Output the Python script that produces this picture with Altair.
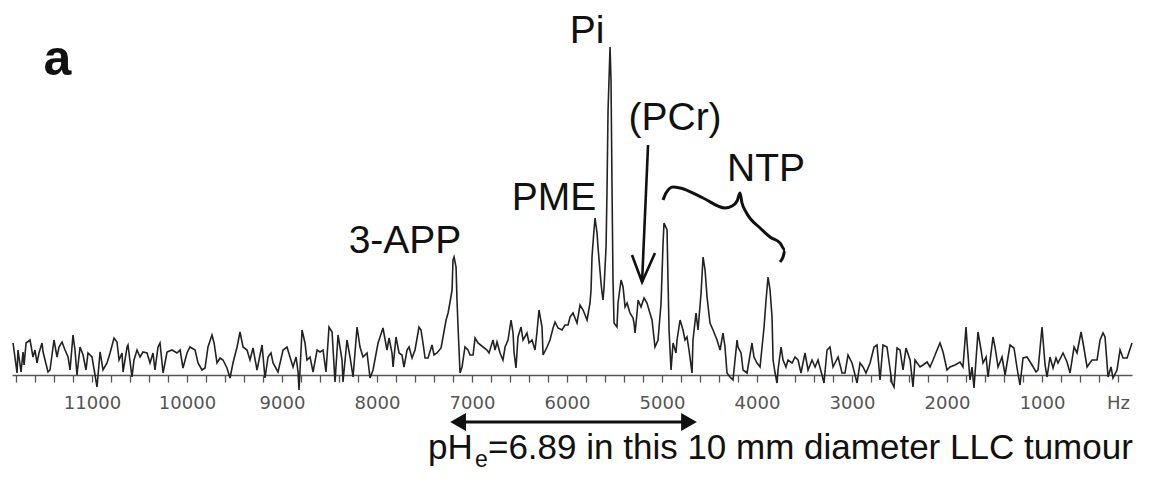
import altair as alt
import pandas as pd

# ---- spectrum (Hz, intensity), in segments ----
hz_a = [11831, 11789, 11779, 11747, 11726, 11715, 11694, 11652, 11621, 11600, 11579, 11558, 11526, 11515, 11463,
        11442, 11410, 11400, 11368, 11347, 11315, 11284, 11252, 11231, 11200, 11179, 11158, 11126, 11094, 11063,
        11042, 11000, 10947, 10915, 10884, 10842, 10810, 10768, 10737, 10715, 10684, 10673, 10631, 10621, 10579,
        10558, 10526, 10494, 10463, 10421, 10389, 10358, 10337, 10305, 10284, 10252, 10210, 10158, 10105, 10073,
        10042, 10000]
amp_a = [32, 2, 25, 3, 23, 10, 32, 35, 18, 25, 12, 22, 32, 23, 3,
         5, 28, 35, 18, 28, 33, 25, 18, 5, 40, 25, 0, 28, 20, 5,
         22, 18, -12, 23, 5, 12, 22, 37, 33, 15, 22, 3, 28, 30, -2,
         15, 25, 18, 23, 22, 12, 22, 5, 28, 32, 2, 23, 25, 22, 25,
         7, 22]

hz_b = [9968, 9915, 9884, 9842, 9810, 9779, 9737, 9715, 9684, 9652, 9621, 9579, 9547, 9516, 9473,
        9442, 9410, 9368, 9337, 9305, 9263, 9210, 9179, 9147, 9116, 9094, 9042, 8989, 8947, 8916,
        8884, 8852, 8831, 8821, 8789, 8758, 8737, 8705, 8673, 8631, 8600, 8568, 8537, 8505, 8473,
        8442, 8410, 8368, 8358, 8316, 8284, 8252, 8210, 8179, 8147, 8105, 8073, 8042, 7989]
amp_b = [28, 25, 12, 5, 7, 28, 40, 32, 12, 17, 15, 7, -3, 12, 28,
         43, 28, 25, 15, 27, 5, 30, -3, 18, 22, 12, 3, 25, 28, 18,
         8, 18, 3, -15, 45, 32, 15, 18, 3, 25, 23, 25, 3, 48, 43,
         -7, 40, 15, -7, 35, 18, -2, 48, 28, 18, 22, -3, 5, 32]

hz_c = [7968, 7937, 7895, 7873, 7842, 7831, 7800, 7768, 7737, 7716, 7684, 7663, 7631, 7600, 7558,
        7537, 7516, 7494, 7463, 7421, 7400, 7368, 7326, 7305, 7273, 7252, 7231, 7210, 7200, 7189,
        7168, 7158, 7147, 7126, 7105, 7074, 7042, 7021, 6989, 6968, 6937, 6884, 6842, 6821, 6779,
        6758, 6737, 6705, 6674, 6652, 6621, 6589, 6568, 6558, 6537, 6516, 6484, 6463, 6421, 6400,
        6368, 6337, 6316, 6295, 6263, 6252, 6210, 6179, 6147, 6126, 6095, 6053, 6021, 5989]
amp_c = [38, 47, 25, 37, 22, 8, 38, 22, 20, 8, 25, 28, 17, 25, 48,
         45, 32, 17, 17, 30, 20, 22, 27, 38, 55, 62, 73, 85, 115, 118,
         108, 75, 48, 2, 8, 28, 25, 20, 20, 37, 32, 28, 25, 22, 35,
         25, 33, 22, 15, 28, 35, 55, 42, 23, 7, 38, 48, 35, 42, 32,
         35, 25, 43, 65, 48, 20, 28, 35, 47, 53, 47, 45, 50, 50]

hz_d = [5968, 5937, 5895, 5863, 5831, 5789, 5758, 5747, 5737, 5716, 5705, 5684, 5674, 5642, 5631,
        5621, 5610, 5589, 5579, 5568, 5547, 5537, 5526, 5516, 5505, 5474, 5463, 5431, 5410, 5389,
        5368, 5337, 5305, 5295, 5284, 5263, 5252, 5221, 5189, 5158, 5137, 5105, 5074, 5042, 5010,
        4989, 4979, 4947, 4937, 4926, 4905, 4884, 4853, 4842, 4810, 4779, 4758, 4737, 4716, 4684,
        4674, 4642, 4621, 4589, 4568, 4547, 4526, 4495, 4463, 4421, 4389, 4358, 4337, 4316, 4284,
        4253, 4210, 4200, 4168, 4147, 4105, 4053, 4032, 4000]
amp_d = [58, 62, 52, 70, 65, 55, 72, 85, 118, 145, 157, 142, 128, 92, 82,
         75, 88, 128, 185, 265, 328, 295, 185, 95, 52, 48, 72, 95, 88, 68,
         72, 62, 57, 52, 42, 62, 75, 68, 77, 72, 65, 55, 28, 35, 72,
         132, 152, 145, 95, 45, 5, 32, 22, 35, 55, 45, 35, 38, 25, 2,
         35, 62, 45, 82, 118, 105, 78, 52, 45, 35, 25, 42, 28, 2, -2,
         -5, 35, 28, 22, 5, 2, 32, 18, 12]

hz_e = [3968, 3947, 3926, 3905, 3884, 3863, 3842, 3831, 3810, 3789, 3779, 3747, 3726, 3695, 3674,
        3631, 3600, 3568, 3537, 3495, 3463, 3421, 3389, 3358, 3316, 3295, 3263, 3232, 3200, 3147,
        3105, 3074, 3042, 3000, 2947, 2916, 2884, 2853, 2810, 2768, 2737, 2705, 2674, 2632, 2579,
        2558, 2526, 2495, 2463, 2432, 2389, 2358, 2337, 2284, 2253, 2210, 2179, 2147, 2105, 2074,
        2042, 2000, 1968]
amp_e = [8, 28, 48, 75, 98, 85, 58, 15, 2, -8, 5, 28, 15, 8, 15,
         12, 18, 15, 2, 22, 5, 15, 8, 15, 0, -8, 25, 28, 8, 18,
         2, 2, 20, 12, -8, 12, 8, 2, 12, 28, 30, -5, 30, 28, -8,
         -12, 27, 25, 5, 27, 15, -12, 15, 8, 10, 13, 8, 15, 25, 32,
         23, 5, 8]

hz_f = [1916, 1863, 1832, 1800, 1789, 1758, 1737, 1716, 1674, 1642, 1621, 1589, 1568, 1516, 1495,
        1463, 1421, 1389, 1337, 1295, 1263, 1232, 1200, 1158, 1105, 1063, 1042, 1000, 968, 947,
        916, 884, 853, 832, 779, 737, 705, 663, 632, 589, 568, 526, 474, 421, 389,
        358, 337, 305, 274, 253, 211, 179, 147, 105, 53]
amp_f = [10, 13, 8, 48, 32, -5, 8, -13, 43, 25, 12, 18, -2, 38, 28,
         8, 18, 0, 30, 27, 7, -10, 17, 18, 10, 3, 5, 48, 10, -2,
         18, 7, 17, 12, 22, 13, 2, 28, 22, 43, 32, 8, 15, 15, 35,
         42, 38, -2, 8, -3, 5, 25, 17, 17, 32]

hz = hz_a + hz_b + hz_c + hz_d + hz_e + hz_f
amp = amp_a + amp_b + amp_c + amp_d + amp_e + amp_f
spec = pd.DataFrame({"hz": hz, "amp": amp})

# ---- annotation text ----
peak_labels = ["Pi", "PME", "3-APP", "(PCr)", "NTP"]
label_hz = [5789, 6137, 7705, 4863, 3905]
label_amp = [332, 165, 122, 245, 194]
labels = pd.DataFrame({"text": peak_labels, "hz": label_hz, "amp": label_amp})

panel = pd.DataFrame({"text": ["a"], "hz": [11363], "amp": [300]})

foot_main = pd.DataFrame({"text": ["pH", "=6.89 in this 10 mm diameter LLC tumour"],
                          "hz": [7463, 6832], "amp": [-84, -84]})
foot_sub = pd.DataFrame({"text": ["e"], "hz": [6968], "amp": [-92]})

# ---- arrows and brace (Hz, intensity) ----
pcr_grp = ["shaft", "shaft", "head", "head", "head"]
pcr_hz = [5147, 5210, 5316, 5210, 5074]
pcr_amp = [230, 93, 120, 93, 122]
pcr = pd.DataFrame({"grp": pcr_grp, "hz": pcr_hz, "amp": pcr_amp, "ord": list(range(len(pcr_hz)))})

brace_hz = [4989, 4958, 4884, 4810, 4568, 4337, 4263, 4210, 4179, 4158, 4116, 3968, 3863, 3758, 3705, 3726, 3758]
brace_amp = [175, 182, 188, 187, 177, 167, 169, 174, 182, 172, 163, 147, 138, 132, 125, 118, 113]
brace = pd.DataFrame({"hz": brace_hz, "amp": brace_amp, "ord": list(range(len(brace_hz)))})

span_hz = [7147, 4716]
span_amp = [-47, -47]
span_shape = ["triangle-left", "triangle-right"]
span = pd.DataFrame({"hz": span_hz, "amp": span_amp, "shape": span_shape})

xscale = alt.Scale(domain=[53, 11842], reverse=True, nice=False, zero=False)
yscale = alt.Scale(domain=[0, 335], nice=False, zero=False)
tick_values = list(range(200, 11801, 200))

xaxis = alt.Axis(
    values=tick_values,
    labelExpr="datum.value % 1000 == 0 ? format(datum.value, 'd') : (datum.value == 200 ? 'Hz' : '')",
    title=None, grid=False, domainColor="#555555", domainWidth=1.6,
    tickColor="#555555", tickWidth=1.3, tickSize=7,
    labelFont="DejaVu Sans", labelFontSize=18, labelColor="#555555",
    labelPadding=12, labelFlush=False, labelOverlap=False,
)

X = alt.X("hz:Q", scale=xscale, axis=xaxis, title=None)
Y = alt.Y("amp:Q", scale=yscale, axis=None)

line = alt.Chart(spec).mark_line(color="#222222", strokeWidth=1.6, clip=False).encode(x=X, y=Y)

lab = alt.Chart(labels).mark_text(font="Liberation Sans", fontSize=39, color="#111111",
                                  align="center", baseline="alphabetic").encode(x=X, y=Y, text="text:N")
pan = alt.Chart(panel).mark_text(font="Liberation Sans", fontSize=50, fontWeight="bold", color="#111111",
                                 align="center", baseline="alphabetic").encode(x=X, y=Y, text="text:N")
foot1 = alt.Chart(foot_main).mark_text(font="Liberation Sans", fontSize=35, color="#111111",
                                       align="left", baseline="alphabetic").encode(x=X, y=Y, text="text:N")
foot2 = alt.Chart(foot_sub).mark_text(font="Liberation Sans", fontSize=23, color="#111111",
                                      align="left", baseline="alphabetic").encode(x=X, y=Y, text="text:N")

pcr_line = alt.Chart(pcr).mark_line(color="#111111", strokeWidth=2.6, clip=False).encode(
    x=X, y=Y, detail="grp:N", order="ord:Q")
brace_line = alt.Chart(brace).mark_line(color="#111111", strokeWidth=3, clip=False, interpolate="monotone").encode(
    x=X, y=Y, order="ord:Q")
span_line = alt.Chart(span).mark_line(color="#111111", strokeWidth=3, clip=False).encode(x=X, y=Y)
span_heads = alt.Chart(span).mark_point(filled=True, color="#111111", opacity=1, size=330, clip=False).encode(
    x=X, y=Y, shape=alt.Shape("shape:N", scale=None))

chart = alt.layer(line, lab, pan, foot1, foot2, pcr_line, brace_line, span_line, span_heads).properties(
    width=1120, height=335,
    background="white",
    padding={"left": 4, "top": 32, "right": 5, "bottom": 95},
    autosize=alt.AutoSizeParams(type="none"),
).configure_view(stroke=None)

chart.save("out.html", embed_options={"renderer": "svg", "actions": False})
